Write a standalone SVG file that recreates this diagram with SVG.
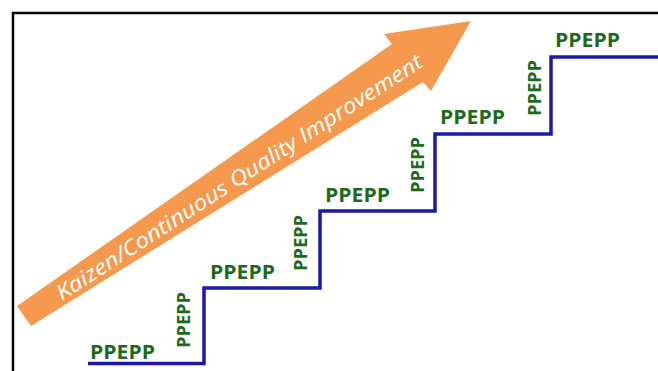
<svg xmlns="http://www.w3.org/2000/svg" width="658" height="371" viewBox="0 0 658 371">
  <defs>
    <style>
      .lbl { font-family: "Open Sans", "Liberation Sans", Arial, sans-serif; font-weight: bold; fill: #1D6A1D; }
      .h { font-size: 19px; }
      .v { font-size: 18px; }
      .stair { fill: none; stroke: #1A1AA6; stroke-width: 3.5; stroke-linejoin: miter; }
      .arrowtxt { font-family: "Open Sans", "Liberation Sans", sans-serif; font-size: 21px; font-style: italic; fill: #FFFFFF; }
    </style>
  </defs>
  <rect x="0" y="0" width="658" height="371" fill="#FFFFFF"/>
  <g id="frame">
    <rect x="13" y="13" width="700" height="400" fill="none" stroke="#000000" stroke-width="2.5"/>
  </g>
  <g id="arrow">
    <polygon points="17,306 392,44 384,34 471,21 431,91 423,82 31,326" fill="#F5994E"/>
    <text class="arrowtxt" x="62" y="301" transform="rotate(-33 62 301)" textLength="432" lengthAdjust="spacingAndGlyphs">Kaizen/Continuous Quality Improvement</text>
  </g>
  <g id="connectors">
    <path class="stair" d="M88,363.5 H204 V288 H320 V211 H435 V134 H551 V57 H660"/>
  </g>
  <g id="step1">
    <text class="lbl h" x="90" y="359" textLength="65" lengthAdjust="spacingAndGlyphs">PPEPP</text>
    <text class="lbl v" x="0" y="0" transform="translate(190 348) rotate(-90)" textLength="56" lengthAdjust="spacingAndGlyphs">PPEPP</text>
  </g>
  <g id="step2">
    <text class="lbl h" x="210" y="279" textLength="65" lengthAdjust="spacingAndGlyphs">PPEPP</text>
    <text class="lbl v" x="0" y="0" transform="translate(307 271) rotate(-90)" textLength="56" lengthAdjust="spacingAndGlyphs">PPEPP</text>
  </g>
  <g id="step3">
    <text class="lbl h" x="325" y="202" textLength="65" lengthAdjust="spacingAndGlyphs">PPEPP</text>
    <text class="lbl v" x="0" y="0" transform="translate(424 193) rotate(-90)" textLength="56" lengthAdjust="spacingAndGlyphs">PPEPP</text>
  </g>
  <g id="step4">
    <text class="lbl h" x="440" y="124" textLength="65" lengthAdjust="spacingAndGlyphs">PPEPP</text>
    <text class="lbl v" x="0" y="0" transform="translate(541 116) rotate(-90)" textLength="56" lengthAdjust="spacingAndGlyphs">PPEPP</text>
  </g>
  <g id="step5">
    <text class="lbl h" x="555" y="47" textLength="65" lengthAdjust="spacingAndGlyphs">PPEPP</text>
  </g>
</svg>
